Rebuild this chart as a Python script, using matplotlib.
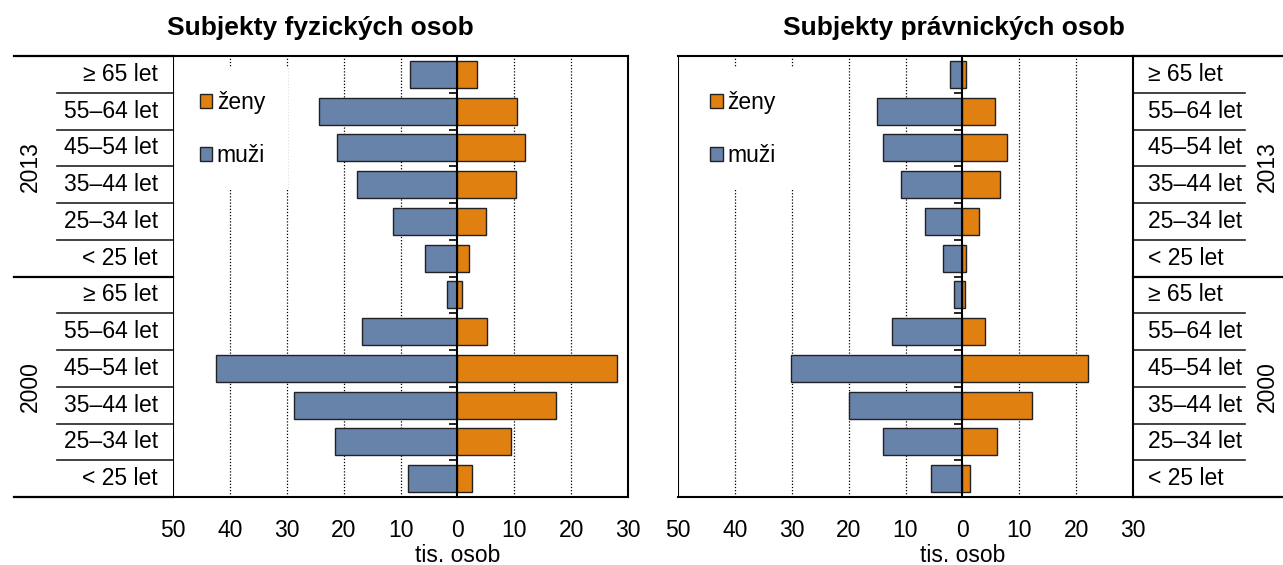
import numpy as np
import matplotlib
matplotlib.use("Agg")
import matplotlib.pyplot as plt
from matplotlib.patches import Patch
from matplotlib.transforms import blended_transform_factory
from matplotlib.lines import Line2D

plt.rcParams['font.family'] = ['Liberation Sans', 'DejaVu Sans']

age_groups = ["≥ 65 let", "55–64 let", "45–54 let", "35–44 let", "25–34 let", "< 25 let"]
years = ["2013", "2000"]

# Subjekty fyzických osob (tis. osob), order: top -> bottom within each year
fyz_muzi_2013 = [8.3, 24.3, 21.2, 17.6, 11.4, 5.7]
fyz_zeny_2013 = [3.4, 10.5, 11.9, 10.3, 5.1, 2.1]
fyz_muzi_2000 = [1.9, 16.8, 42.4, 28.8, 21.5, 8.6]
fyz_zeny_2000 = [0.9, 5.2, 28.1, 17.3, 9.4, 2.6]

# Subjekty právnických osob (tis. osob)
prav_muzi_2013 = [2.1, 15.0, 13.9, 10.8, 6.5, 3.4]
prav_zeny_2013 = [0.7, 5.8, 7.8, 6.7, 3.0, 0.7]
prav_muzi_2000 = [1.5, 12.4, 30.1, 20.0, 13.9, 5.5]
prav_zeny_2000 = [0.4, 3.9, 22.1, 12.3, 6.0, 1.3]

titles = ["Subjekty fyzických osob", "Subjekty právnických osob"]
xticks = [-50, -40, -30, -20, -10, 0, 10, 20, 30]
xticklabels = ["50", "40", "30", "20", "10", "0", "10", "20", "30"]
xlabel = "tis. osob"

C_M = "#6883AA"
C_Z = "#DF8011"
FS = 16.5

W, H = 1283, 565
fig = plt.figure(figsize=(W / 100, H / 100), dpi=100)

def fx(px):
    return px / W

def fy(py):
    return 1 - py / H

ax_top, ax_bot = 56, 497
axL = fig.add_axes([fx(173), fy(ax_bot), fx(628) - fx(173), fy(ax_top) - fy(ax_bot)])
axR = fig.add_axes([fx(678), fy(ax_bot), fx(1133) - fx(678), fy(ax_top) - fy(ax_bot)])

panels = [
    (axL, fyz_muzi_2013 + fyz_muzi_2000, fyz_zeny_2013 + fyz_zeny_2000, "left"),
    (axR, prav_muzi_2013 + prav_muzi_2000, prav_zeny_2013 + prav_zeny_2000, "right"),
]

labels_all = age_groups + age_groups
n = len(labels_all)
y = np.arange(n)

for i, (ax, muzi, zeny, side) in enumerate(panels):
    ax.set_xlim(-50, 30)
    ax.set_ylim(n - 0.5, -0.5)
    for g in [-40, -30, -20, -10, 10, 20]:
        ax.axvline(g, color="black", lw=0.9, ls=(0, (1, 1.5)), zorder=0)
    ax.barh(y, -np.array(muzi), height=0.74, color=C_M, edgecolor="#222222", lw=1.0, zorder=3, label="muži")
    ax.barh(y, np.array(zeny), height=0.74, color=C_Z, edgecolor="#222222", lw=1.0, zorder=3, label="ženy")

    # spines
    for s in ["top", "bottom", "right"]:
        ax.spines[s].set_linewidth(1.5)
    ax.spines["left"].set_position(("data", 0))
    ax.spines["left"].set_linewidth(1.5)
    ax.spines["left"].set_zorder(4)
    ax.axvline(-50, color="black", lw=1.5, zorder=4)
    ax.set_yticks(np.arange(n - 1) + 0.5)
    ax.set_yticklabels([])
    ax.tick_params(axis="y", direction="out", length=6, width=1.2)
    ax.set_xticks(xticks)
    ax.set_xticklabels(xticklabels, fontsize=FS)
    ax.tick_params(axis="x", length=0, pad=16)

    trans = blended_transform_factory(ax.transAxes, ax.transData)
    axw = 455.0
    if side == "left":
        lab_x = -15 / axw
        ha = "right"
        cat_x0, cat_x1 = (57 - 173) / axw, 0
        grp_x0, grp_x1 = (14 - 173) / axw, 0
        year_x = (30 - 173) / axw
    else:
        lab_x = 1 + 15 / axw
        ha = "left"
        cat_x0, cat_x1 = 1, 1 + (1245 - 1133) / axw
        grp_x0, grp_x1 = 1, 1 + (1283 - 1133) / axw
        year_x = 1 + (1267 - 1133) / axw
    for k, lab in enumerate(labels_all):
        ax.text(lab_x, y[k], lab, transform=trans, ha=ha, va="center", fontsize=FS)
    for k in range(n + 1):
        yb = k - 0.5
        if k % len(age_groups) == 0:
            ax.add_line(Line2D([grp_x0, grp_x1], [yb, yb], transform=trans, color="black", lw=1.6, clip_on=False))
        else:
            ax.add_line(Line2D([cat_x0, cat_x1], [yb, yb], transform=trans, color="#222222", lw=1.2, clip_on=False))
    for gi, yr in enumerate(years):
        yc = gi * len(age_groups) + (len(age_groups) - 1) / 2
        ax.text(year_x, yc, yr, transform=trans, ha="center", va="center", rotation=90, fontsize=FS)

    tx = blended_transform_factory(ax.transData, ax.transAxes)
    ax.text(0, -58 / 441, xlabel, transform=tx, ha="center", va="center", fontsize=FS)

    handles = [Patch(facecolor=C_Z, edgecolor="#222222", lw=1.0, label="ženy"),
               Patch(facecolor=C_M, edgecolor="#222222", lw=1.0, label="muži")]
    leg = ax.legend(handles=handles, loc="upper left",
                    bbox_to_anchor=(0.008 if side == "left" else 0.02, 0.972),
                    frameon=True, fancybox=False, edgecolor="none", facecolor="white", framealpha=1,
                    fontsize=FS, handlelength=0.55, handleheight=0.55, handletextpad=0.2,
                    labelspacing=1.3, borderpad=1.0, borderaxespad=0)
    leg.set_zorder(2)

fig.text(fx(320), fy(28), titles[0], ha="center", va="center", fontsize=19, fontweight="bold")
fig.text(fx(954), fy(28), titles[1], ha="center", va="center", fontsize=19, fontweight="bold")

fig.savefig("out.png", dpi=100)
